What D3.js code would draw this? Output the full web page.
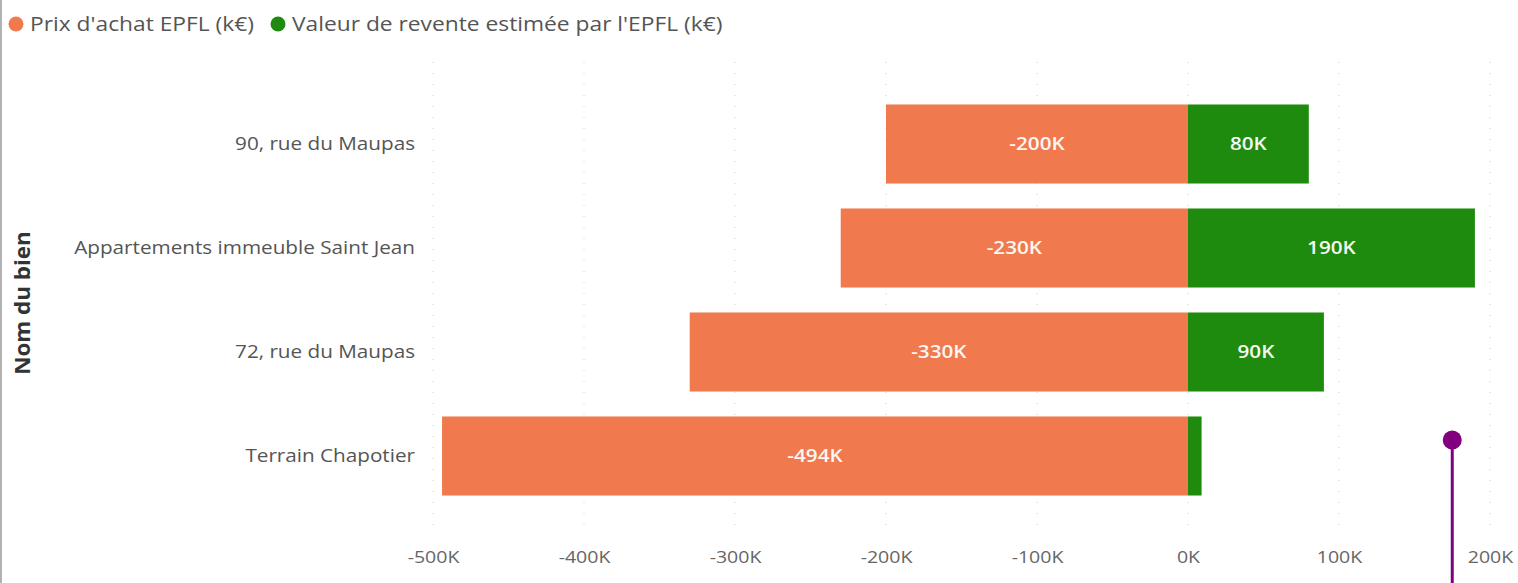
<!DOCTYPE html>
<html>
<head>
<meta charset="utf-8">
<script src="https://cdn.jsdelivr.net/npm/d3@7"></script>
<style>
  body { margin: 0; background: #fff; }
  svg { display: block; font-family: "Open Sans", sans-serif; }
</style>
</head>
<body>
<div id="chart"></div>
<script>
// données
var categories = ['90, rue du Maupas', 'Appartements immeuble Saint Jean', '72, rue du Maupas', 'Terrain Chapotier'];
var prixAchat = [-200, -230, -330, -494];   // k€
var valeurRevente = [80, 190, 90, 9];       // k€
var xTicks = [-500, -400, -300, -200, -100, 0, 100, 200];
var seriesNames = ["Prix d'achat EPFL (k€)", "Valeur de revente estimée par l'EPFL (k€)"];
var seriesColors = ['#F07A4D', '#1F8B0E'];
var marqueur = 175; // point violet

var W = 1518, H = 583;
var SX = 1.15; // étirement horizontal du texte

var svg = d3.select('#chart').append('svg')
  .attr('width', W)
  .attr('height', H);

// bordure gauche
svg.append('line')
  .attr('x1', 1).attr('x2', 1).attr('y1', 0).attr('y2', H)
  .attr('stroke', '#999').attr('stroke-width', 1.5);

var x = d3.scaleLinear().domain([-500, 200]).range([433, 1490]);
var y = d3.scaleBand().domain(categories).range([92, 508]).paddingInner(0.24).paddingOuter(0.12);

// texte étiré
function addText(parent, tx, ty, str, opts) {
  var t = parent.append('g')
    .attr('transform', 'translate(' + tx + ',' + ty + ') scale(' + SX + ',1)')
    .append('text')
    .attr('dy', '0.35em')
    .attr('text-anchor', opts.anchor || 'start')
    .attr('font-size', opts.size)
    .attr('font-weight', opts.weight || 'normal')
    .attr('fill', opts.fill)
    .text(str);
  return t;
}

// grille pointillée
svg.append('g').selectAll('line')
  .data(xTicks)
  .enter().append('line')
  .attr('x1', function(d) { return x(d); })
  .attr('x2', function(d) { return x(d); })
  .attr('y1', 62).attr('y2', 535)
  .attr('stroke', '#cfcfcf')
  .attr('stroke-width', 1)
  .attr('stroke-dasharray', '1,10');

// axe x
var xAxis = d3.axisBottom(x).tickValues(xTicks).tickSize(0).tickPadding(0)
  .tickFormat(function(d) { return d + 'K'; });
var gx = svg.append('g').attr('transform', 'translate(0,551)').call(xAxis);
gx.select('.domain').remove();
gx.selectAll('text')
  .attr('font-size', 17).attr('fill', '#666')
  .attr('font-family', '"Open Sans", sans-serif')
  .attr('transform', 'scale(' + SX + ',1)');

// axe y
var yAxis = d3.axisLeft(y).tickSize(0).tickPadding(18);
var gy = svg.append('g').attr('transform', 'translate(' + x(-500) + ',0)').call(yAxis);
gy.select('.domain').remove();
gy.selectAll('text')
  .attr('font-size', 18).attr('fill', '#555')
  .attr('font-family', '"Open Sans", sans-serif')
  .attr('x', -18 / SX)
  .attr('transform', 'scale(' + SX + ',1)');

// titre axe y
svg.append('g')
  .attr('transform', 'translate(22,303) rotate(-90) scale(1.12,1.1)')
  .append('text')
  .attr('dy', '0.35em')
  .attr('text-anchor', 'middle')
  .attr('font-size', 20)
  .attr('font-weight', 'bold')
  .attr('fill', '#333')
  .text('Nom du bien');

// barres
var rows = categories.map(function(c, i) { return {cat: c, achat: prixAchat[i], revente: valeurRevente[i]}; });

var g = svg.append('g');
g.selectAll('rect.achat')
  .data(rows)
  .enter().append('rect')
  .attr('class', 'achat')
  .attr('x', function(d) { return x(d.achat); })
  .attr('y', function(d) { return y(d.cat); })
  .attr('width', function(d) { return x(0) - x(d.achat); })
  .attr('height', y.bandwidth())
  .attr('fill', seriesColors[0]);

g.selectAll('rect.revente')
  .data(rows)
  .enter().append('rect')
  .attr('class', 'revente')
  .attr('x', x(0))
  .attr('y', function(d) { return y(d.cat); })
  .attr('width', function(d) { return x(d.revente) - x(0); })
  .attr('height', y.bandwidth())
  .attr('fill', seriesColors[1]);

// étiquettes
rows.forEach(function(d) {
  var cy = y(d.cat) + y.bandwidth() / 2;
  addText(g, (x(d.achat) + x(0)) / 2, cy, d.achat + 'K', {anchor: 'middle', size: 18, weight: 600, fill: '#fdf6f2'});
  if (d.revente >= 30) {
    addText(g, (x(d.revente) + x(0)) / 2, cy, d.revente + 'K', {anchor: 'middle', size: 18, weight: 600, fill: '#f4faf2'});
  }
});

// légende
var leg = svg.append('g');
var lx = [16, 278];
seriesNames.forEach(function(n, i) {
  leg.append('circle').attr('cx', lx[i]).attr('cy', 24).attr('r', 7.5).attr('fill', seriesColors[i]);
  addText(leg, lx[i] + 14, 24, n, {size: 19.8, fill: '#555'});
});

// marqueur violet
svg.append('line')
  .attr('x1', x(marqueur)).attr('x2', x(marqueur))
  .attr('y1', 440).attr('y2', H)
  .attr('stroke', '#800080').attr('stroke-width', 3);
svg.append('circle')
  .attr('cx', x(marqueur)).attr('cy', 440).attr('r', 9.5)
  .attr('fill', '#800080');
</script>
</body>
</html>
